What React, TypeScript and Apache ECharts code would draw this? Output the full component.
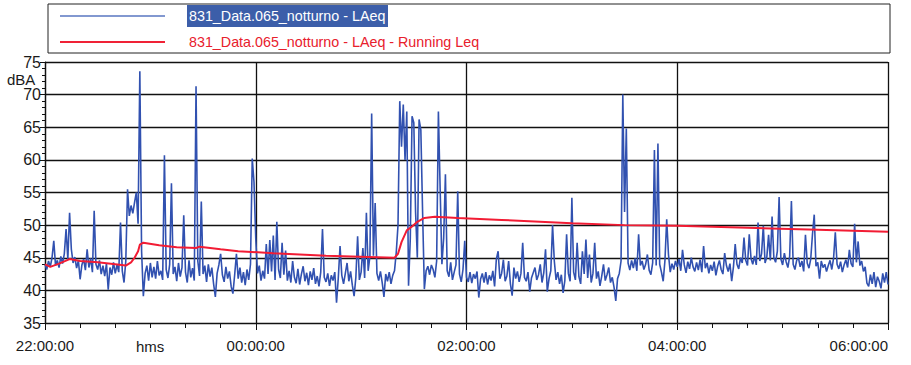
import React, { useEffect, useRef } from "react";
import * as echarts from "echarts";

// minutes from 22:00:00, one sample per minute
const SAMPLE_STEP_MIN = 1;
const laeq: number[] = [
  44.0, 43.2, 44.5, 43.6, 45.0, 47.6, 43.8, 44.6, 43.5, 45.2,
  44.1, 45.6, 49.4, 44.8, 51.9, 46.3, 44.2, 45.1, 43.4, 44.6,
  41.7, 43.9, 44.8, 43.1, 46.3, 43.5, 44.9, 42.8, 52.2, 44.0,
  43.2, 44.6, 42.5, 43.8, 42.2, 44.1, 40.1, 43.5, 42.4, 44.3,
  42.6, 43.9, 42.8, 50.4, 43.0, 41.2, 44.5, 55.5, 51.4, 53.0,
  51.8, 53.5, 55.0, 50.2, 73.6, 46.0, 39.1, 42.6, 43.8, 41.5,
  44.2, 42.0, 43.6, 41.8, 44.5, 42.3, 43.0, 41.6, 60.7, 43.2,
  41.9, 44.0, 56.4, 42.5, 43.6, 41.4, 44.2, 42.1, 43.5, 51.5,
  42.8, 41.2, 44.6, 42.0, 43.4, 41.5, 71.3, 44.5, 42.2, 53.6,
  42.5, 43.8, 41.3, 44.0, 42.1, 43.5, 41.0, 39.0, 42.6, 43.9,
  45.6, 42.4, 41.3, 43.6, 41.8, 42.9, 40.6, 39.5, 42.4, 45.6,
  41.8, 43.5, 41.2, 42.8, 40.8, 43.2, 41.6, 44.0, 60.2, 56.6,
  48.0, 42.6, 43.8, 41.5, 43.0, 41.8, 47.1, 42.5, 47.7, 42.9,
  48.4, 41.6, 50.5, 43.2, 41.9, 47.3, 42.4, 46.1, 41.5, 43.0,
  41.2, 44.5, 42.0, 41.1, 43.3, 40.9, 42.5, 43.7, 41.4, 42.7,
  40.8, 42.9, 41.6, 43.4, 41.0, 42.2, 40.6, 42.8, 49.4, 42.0,
  41.3, 42.6, 40.7, 42.3, 41.5, 42.8, 38.1, 41.9, 46.8, 42.3,
  41.0, 42.6, 44.2, 41.4, 42.9, 40.8, 39.1, 42.0, 48.3, 41.6,
  42.8, 46.5, 41.9, 51.9, 43.0, 45.2, 67.1, 45.3, 53.4, 42.6,
  41.5, 42.9, 41.2, 39.0, 42.5, 41.4, 42.8, 41.0, 42.3, 43.0,
  45.8, 50.0, 69.0, 62.0, 68.5, 60.0, 67.4, 40.7, 48.0, 66.7,
  65.7, 52.0, 45.0, 66.2, 64.6, 52.0, 40.2, 43.0, 43.7, 42.4,
  43.9, 43.2, 42.0, 44.5, 67.4, 55.5, 44.0, 48.0, 57.8, 43.0,
  42.1, 44.3, 41.6, 42.8, 43.9, 55.2, 42.5, 41.3, 43.2, 47.6,
  42.0, 41.3, 42.8, 41.1, 42.5, 41.8, 42.9, 38.9, 41.7, 42.6,
  41.2, 42.8, 40.9, 42.3, 41.5, 43.0, 40.6, 44.8, 46.0, 41.8,
  42.6, 44.7, 41.4, 42.2, 44.5, 41.0, 39.2, 43.5, 41.8, 42.9,
  41.3, 42.6, 47.3, 42.0, 41.4, 42.8, 39.8, 41.9, 42.7, 43.5,
  41.6, 42.4, 44.0, 41.2, 42.7, 46.3, 39.8, 41.8, 43.0, 50.0,
  44.5, 41.6, 42.8, 41.0, 42.4, 39.6, 41.5, 48.6, 42.6, 41.4,
  54.2, 42.8, 41.6, 47.3, 42.1, 41.0, 46.0, 42.5, 47.8, 41.9,
  45.5, 41.2, 42.6, 47.3, 41.8, 42.9, 40.7, 42.2, 44.0, 41.5,
  42.4, 43.5, 41.2, 42.0, 40.5, 38.4, 41.8, 42.6, 44.5, 70.0,
  52.0, 64.8, 44.2, 43.1, 44.6, 43.4, 44.9, 43.0, 48.6, 43.8,
  44.5, 43.2, 44.0, 45.5, 43.1, 42.4, 44.2, 61.5, 43.8, 62.5,
  44.0, 42.8, 41.4, 44.6, 50.9, 45.5, 42.8, 44.1, 43.2, 44.5,
  43.6, 44.8, 43.0, 46.2, 43.9, 42.7, 44.4, 43.3, 45.0, 43.6,
  42.9, 44.3, 43.1, 44.7, 42.8, 46.8, 43.4, 44.2, 42.6, 43.9,
  43.0, 44.4, 42.3, 43.7, 44.6, 43.2, 42.5, 45.7, 43.8, 42.9,
  44.1, 41.4, 43.6, 47.1, 44.0, 43.3, 45.0, 44.2, 48.1, 44.6,
  43.8, 48.6, 44.9, 44.0, 45.3, 43.9, 50.4, 44.5, 45.6, 49.9,
  44.2, 45.1, 48.5, 44.6, 51.3, 45.0, 44.3, 46.0, 54.3, 44.8,
  43.9, 45.7, 44.4, 43.5, 45.2, 53.7, 44.0, 43.2, 44.6, 45.0,
  43.6, 44.5, 42.9, 48.5, 44.2, 43.4, 44.8, 48.6, 51.6, 43.7,
  44.3, 41.8, 44.5, 43.5, 44.0, 42.9, 43.8, 44.6, 43.2, 44.9,
  48.9, 44.0, 43.3, 44.4, 42.8, 43.9, 44.7, 43.5, 46.2, 44.1,
  43.6, 50.2, 44.3, 47.5, 43.8, 44.5, 42.9, 43.6, 41.1, 40.6,
  42.4, 41.0, 42.8, 40.5, 42.1, 41.4, 40.3, 42.6, 41.2, 42.8,
  40.9,
];

// running Leq knots: minutes from 22:00:00 and dBA
const runningTimes: number[] = [
  0, 3, 8, 14, 20, 30, 40, 46, 49, 51, 53, 54, 56, 65, 75, 86, 88, 100, 110,
  130, 160, 199, 201, 203, 206, 209, 212, 216, 222, 235, 260, 300, 330, 360,
  400, 440, 480,
];
const runningLeq: number[] = [
  44.0, 43.6, 44.1, 44.8, 44.5, 44.3, 44.0, 43.8, 44.3, 45.0, 46.0, 47.0, 47.3,
  46.9, 46.6, 46.5, 46.7, 46.3, 46.0, 45.7, 45.3, 45.0, 45.6, 47.4, 49.2, 49.8,
  50.5, 51.1, 51.3, 51.1, 50.8, 50.3, 50.0, 49.9, 49.6, 49.3, 49.0,
];

const xTickLabels: string[] = ["22:00:00", "00:00:00", "02:00:00", "04:00:00", "06:00:00"];
const seriesNames: string[] = [
  "831_Data.065_notturno - LAeq",
  "831_Data.065_notturno - LAeq - Running Leq",
];
const yUnit = "dBA";
const xUnit = "hms";

const FONT = "'Liberation Sans', Arial, sans-serif";

export default function App() {
  const ref = useRef<HTMLDivElement | null>(null);

  useEffect(() => {
    if (!ref.current) return;
    const chart = echarts.init(ref.current, undefined, { renderer: "svg" });
    const blueData = laeq.map((v, i) => [i * SAMPLE_STEP_MIN, v]);
    const redData = runningTimes.map((t, i) => [t, runningLeq[i]]);

    chart.setOption({
      animation: false,
      backgroundColor: "#ffffff",
      grid: {
        left: 45,
        top: 62,
        width: 843,
        height: 261,
        show: false,
        containLabel: false,
        outerBoundsMode: "none",
      },
      xAxis: {
        type: "value",
        min: 0,
        max: 480,
        interval: 120,
        axisLine: { show: true, lineStyle: { color: "#111", width: 1.2 } },
        axisTick: { show: true, length: 7, inside: false, lineStyle: { color: "#111", width: 1 } },
        minorTick: { show: true, splitNumber: 6, length: 5, lineStyle: { color: "#111", width: 1 } },
        splitLine: { show: true, lineStyle: { color: "#111", width: 1.3 } },
        axisLabel: {
          formatter: (v: number) => xTickLabels[Math.round(v / 120)] ?? "",
          color: "#1a1a1a",
          fontFamily: FONT,
          fontSize: 15,
          margin: 15,
          showMinLabel: true,
          showMaxLabel: true,
          alignMaxLabel: "right",
        },
      },
      yAxis: {
        type: "value",
        min: 35,
        max: 75,
        interval: 5,
        axisLine: { show: true, lineStyle: { color: "#111", width: 1.2 } },
        axisTick: { show: true, length: 5, lineStyle: { color: "#111", width: 1 } },
        minorTick: { show: true, splitNumber: 5, length: 3, lineStyle: { color: "#111", width: 1 } },
        splitLine: { show: true, lineStyle: { color: "#111", width: 1.3 } },
        axisLabel: {
          color: "#1a1a1a",
          fontFamily: FONT,
          fontSize: 16,
          margin: 4,
        },
      },
      series: [
        {
          name: seriesNames[0],
          type: "line",
          data: blueData,
          showSymbol: false,
          symbol: "none",
          lineStyle: { color: "#3151b0", width: 1.6 },
          z: 2,
        },
        {
          name: seriesNames[1],
          type: "line",
          data: redData,
          showSymbol: false,
          symbol: "none",
          lineStyle: { color: "#f21c34", width: 2 },
          z: 3,
        },
      ],
      graphic: [
        {
          type: "rect",
          shape: { x: 48, y: 4, width: 842, height: 49 },
          style: { fill: "#ffffff", stroke: "#222", lineWidth: 1 },
        },
        {
          type: "line",
          shape: { x1: 60, y1: 16, x2: 165, y2: 16 },
          style: { stroke: "#5876c0", lineWidth: 1.5 },
        },
        {
          type: "line",
          shape: { x1: 60, y1: 42, x2: 165, y2: 42 },
          style: { stroke: "#f02236", lineWidth: 2 },
        },
        {
          type: "rect",
          shape: { x: 187, y: 5, width: 201, height: 22 },
          style: { fill: "#3c5ea9" },
        },
        {
          type: "text",
          x: 189,
          y: 16,
          style: {
            text: seriesNames[0],
            fill: "#ffffff",
            font: `14.3px ${FONT}`,
            verticalAlign: "middle",
          },
        },
        {
          type: "text",
          x: 189,
          y: 42,
          style: {
            text: seriesNames[1],
            fill: "#e8202c",
            font: `14.3px ${FONT}`,
            verticalAlign: "middle",
          },
        },
        {
          type: "text",
          x: 7,
          y: 79,
          style: {
            text: yUnit,
            fill: "#1a1a1a",
            font: `15px ${FONT}`,
            verticalAlign: "middle",
          },
        },
        {
          type: "text",
          x: 136,
          y: 346,
          style: {
            text: xUnit,
            fill: "#1a1a1a",
            font: `15px ${FONT}`,
            verticalAlign: "middle",
          },
        },
      ],
    });

    return () => chart.dispose();
  }, []);

  return (
    <div
      ref={ref}
      style={{ position: "fixed", left: 0, top: 0, width: 911, height: 365, background: "#fff" }}
    />
  );
}
